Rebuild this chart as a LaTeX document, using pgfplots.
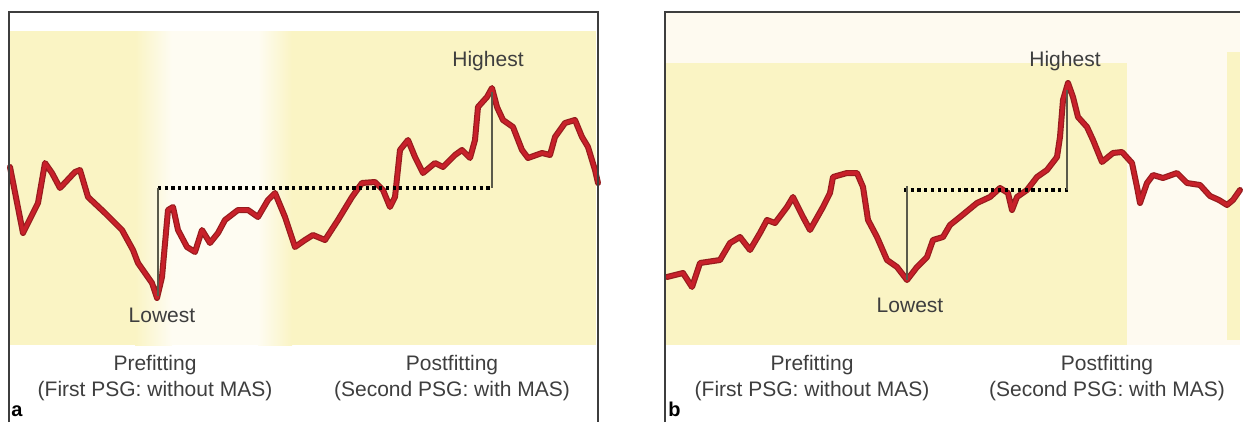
\documentclass[border=0pt]{standalone}
\usepackage{fontspec}
\setmainfont{Liberation Sans}
\usepackage{pgfplots}
\pgfplotsset{compat=1.18}
\usepackage{pgfplotstable}
\definecolor{bgyel}{RGB}{250,244,196}
\definecolor{bgwhite}{RGB}{254,252,242}
\definecolor{bgcream}{RGB}{254,250,240}
\definecolor{linered}{RGB}{200,32,42}
\definecolor{linedark}{RGB}{150,28,30}
\definecolor{txt}{RGB}{62,62,62}
\definecolor{vline}{RGB}{90,90,75}

\pgfplotstableread{
px py
10 167
23 233
38 203
45 163
52 173
60 188
75 172
80 170
88 197
105 213
122 230
133 250
138 263
152 283
157 298
162 277
168 210
173 207
178 230
187 247
195 252
202 230
210 243
218 233
225 220
238 210
248 210
258 217
268 200
275 193
285 217
295 247
305 240
313 235
325 240
338 220
352 197
362 183
375 182
383 190
390 207
395 197
400 150
408 140
415 157
423 173
435 163
443 167
455 155
462 150
470 158
475 140
478 107
487 97
492 88
497 107
503 120
513 127
522 150
528 158
542 153
550 155
555 137
565 123
575 120
582 137
588 147
595 170
598 183
}\dataA

\pgfplotstableread{
px py
667 277
683 273
692 287
700 263
720 260
730 243
740 237
750 250
760 233
767 220
775 223
787 207
793 197
803 217
810 230
823 207
830 193
833 177
847 173
857 173
863 187
868 220
877 237
887 260
897 267
907 280
917 267
927 257
933 240
943 237
950 225
960 217
977 203
990 197
1000 188
1008 193
1012 210
1017 197
1027 190
1037 177
1047 170
1057 157
1060 137
1063 100
1068 83
1073 97
1078 117
1087 127
1093 140
1102 162
1113 153
1122 152
1132 163
1137 187
1140 203
1147 183
1153 175
1163 178
1177 173
1187 183
1200 185
1210 196
1219 200
1227 205
1233 200
1240 190
}\dataB

\pgfplotsset{
  panel/.style={scale only axis, hide axis, clip=false, y dir=reverse,
    ymin=12, ymax=422, height=205pt, anchor=south west},
}
\tikzset{
  sig/.style={line join=round, line cap=round},
  lab/.style={anchor=base, text=txt, font=\fontsize{10.5pt}{13pt}\selectfont, inner sep=0pt},
}

\begin{document}
\begin{tikzpicture}
\path (0,0) rectangle (622pt,211pt);
% ---------------- panel a
\begin{axis}[panel, at={(4.5pt,0pt)}, width=294.5pt, xmin=9, xmax=598]
  \fill[bgyel] (axis cs:9,31) rectangle (axis cs:596,345);
  \fill[bgwhite] (axis cs:172,31) rectangle (axis cs:258,345);
  \shade[left color=bgyel, right color=bgwhite] (axis cs:135,31) rectangle (axis cs:172,345);
  \shade[left color=bgwhite, right color=bgyel] (axis cs:258,31) rectangle (axis cs:292,345);
  \addplot[linedark, line width=3pt, sig] table[x=px, y=py] {\dataA};
  \addplot[linered, line width=1.8pt, sig] table[x=px, y=py] {\dataA};
  \addplot[black, line width=1.6pt, dash pattern=on 1.6pt off 1.75pt] coordinates {(158,188) (492,188)};
  \addplot[vline, line width=1pt] coordinates {(158,188) (158,296)};
  \addplot[vline, line width=1pt] coordinates {(492,92) (492,188)};
  \node[lab] at (axis cs:488,66) {Highest};
  \node[lab] at (axis cs:162,322) {Lowest};
  \node[lab] at (axis cs:155,370) {Prefitting};
  \node[lab] at (axis cs:155,396) {(First PSG: without MAS)};
  \node[lab] at (axis cs:452,370) {Postfitting};
  \node[lab] at (axis cs:452,396) {(Second PSG: with MAS)};
  \node[anchor=base west, inner sep=0pt, font=\fontsize{10pt}{12pt}\selectfont\bfseries] at (axis cs:11,416) {a};
  \draw[txt, line width=0.7pt] (axis cs:9,422) -- (axis cs:9,12) -- (axis cs:598,12) -- (axis cs:598,422);
\end{axis}
% ---------------- panel b
\begin{axis}[panel, at={(332.5pt,0pt)}, width=287.5pt, xmin=665, xmax=1240]
  \fill[bgcream] (axis cs:665,12) rectangle (axis cs:1240,345);
  \fill[bgyel] (axis cs:665,63) rectangle (axis cs:1127,345);
  \fill[bgyel] (axis cs:1227,52) rectangle (axis cs:1240,340);
  \addplot[linedark, line width=3pt, sig] table[x=px, y=py] {\dataB};
  \addplot[linered, line width=1.8pt, sig] table[x=px, y=py] {\dataB};
  \addplot[black, line width=1.6pt, dash pattern=on 1.6pt off 1.75pt] coordinates {(904,190) (1070,190)};
  \addplot[vline, line width=1pt] coordinates {(907,186) (907,280)};
  \addplot[vline, line width=1pt] coordinates {(1067,90) (1067,190)};
  \node[lab] at (axis cs:1065,66) {Highest};
  \node[lab] at (axis cs:910,312) {Lowest};
  \node[lab] at (axis cs:812,370) {Prefitting};
  \node[lab] at (axis cs:812,396) {(First PSG: without MAS)};
  \node[lab] at (axis cs:1107,370) {Postfitting};
  \node[lab] at (axis cs:1107,396) {(Second PSG: with MAS)};
  \node[anchor=base west, inner sep=0pt, font=\fontsize{10pt}{12pt}\selectfont\bfseries] at (axis cs:668,416) {b};
  \draw[txt, line width=0.7pt] (axis cs:665,422) -- (axis cs:665,12) -- (axis cs:1240,12);
\end{axis}
\end{tikzpicture}
\end{document}
